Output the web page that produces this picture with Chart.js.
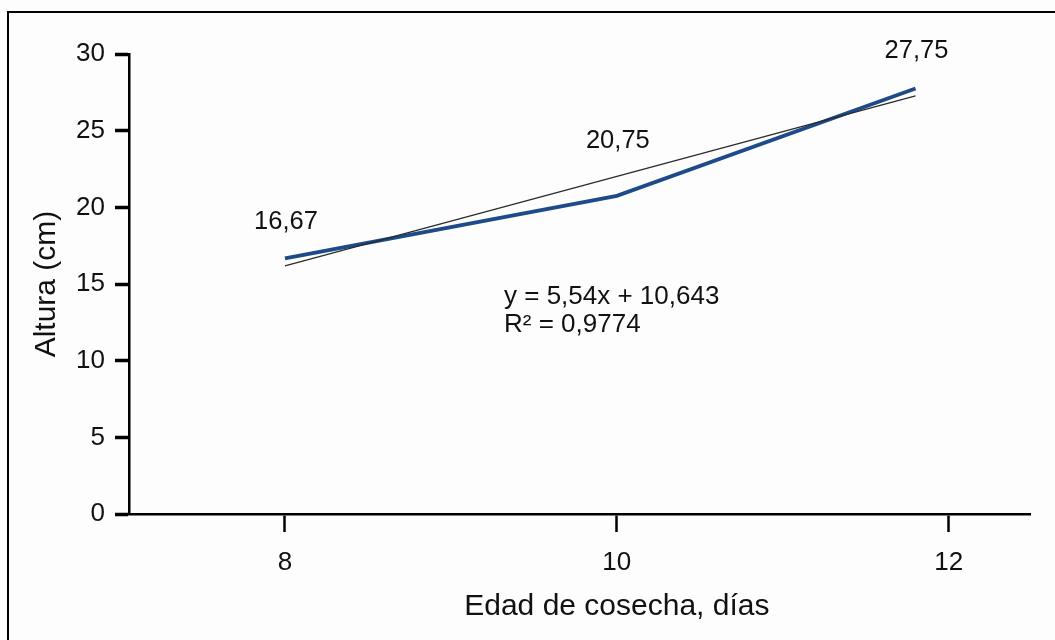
<!DOCTYPE html>
<html>
<head>
<meta charset="utf-8">
<script src="https://cdn.jsdelivr.net/npm/chart.js@4/dist/chart.umd.min.js"></script>
<style>
  html, body { margin: 0; padding: 0; background: #fdfdfd; }
  #wrap { position: relative; width: 1055px; height: 640px; overflow: hidden; }
  #frame { position: absolute; left: 7px; top: 11px; width: 1100px; height: 700px;
           border-left: 2.5px solid #000; border-top: 2.5px solid #000; box-sizing: border-box; }
  #c { position: absolute; left: 0; top: 0; }
</style>
</head>
<body>
<div id="wrap">
  <div id="frame"></div>
  <canvas id="c" width="1055" height="640"></canvas>
</div>
<script>
// Plant height by harvest age
const ages = [8, 10, 11.8];
const heights = [16.67, 20.75, 27.75];
const xTickValues = [8, 10, 12];
const yTickStep = 5;
const yRange = [0, 30];
const xRange = [7.06, 12.49];
// Linear trend (x = sample index 1..n): y = slope * x + intercept
const trendCoef = [5.54, 10.643];
const trendIndex = [1, 3];
const equationLines = ['y = 5,54x + 10,643', 'R\u00B2 = 0,9774'];
const xTitle = 'Edad de cosecha, días';
const yTitle = 'Altura (cm)';

const FONT = '"Liberation Sans", Arial, sans-serif';
const fmt = v => v.toFixed(2).replace('.', ',');

const trendPoints = [
  { x: ages[0], y: trendCoef[0] * trendIndex[0] + trendCoef[1] },
  { x: ages[ages.length - 1], y: trendCoef[0] * trendIndex[1] + trendCoef[1] }
];

// vertical distance of each value label above its point
const labelLift = [36, 55, 38];

const annotations = {
  id: 'annotations',
  afterDatasetsDraw(chart) {
    const ctx = chart.ctx;
    const meta = chart.getDatasetMeta(1);
    ctx.save();
    ctx.fillStyle = '#111';
    ctx.textAlign = 'center';
    ctx.textBaseline = 'middle';
    ctx.font = '25.5px ' + FONT;
    meta.data.forEach((pt, i) => {
      ctx.fillText(fmt(heights[i]), pt.x + 1, pt.y - labelLift[i]);
    });
    // regression equation
    ctx.textAlign = 'left';
    ctx.font = '26px ' + FONT;
    ctx.fillText(equationLines[0], 504, 297);
    ctx.fillText(equationLines[1], 504, 325);
    // axis titles
    const xs = chart.scales.x;
    ctx.font = '30px ' + FONT;
    ctx.textAlign = 'center';
    ctx.fillText(xTitle, xs.getPixelForValue(xTickValues[1]), 607);
    ctx.save();
    ctx.translate(47, (chart.chartArea.top + chart.chartArea.bottom) / 2);
    ctx.rotate(-Math.PI / 2);
    ctx.fillText(yTitle, 0, 0);
    ctx.restore();
    ctx.restore();
  }
};

new Chart(document.getElementById('c'), {
  type: 'scatter',
  data: {
    datasets: [
      {
        data: trendPoints,
        showLine: true,
        borderColor: '#2a2a2a',
        borderWidth: 1.3,
        pointRadius: 0,
        order: 0
      },
      {
        data: ages.map((a, i) => ({ x: a, y: heights[i] })),
        showLine: true,
        borderColor: '#1d4a88',
        borderWidth: 3.8,
        pointRadius: 0,
        tension: 0,
        order: 1
      }
    ]
  },
  options: {
    responsive: false,
    animation: false,
    layout: { padding: { top: 54, right: 25, left: 0, bottom: 0 } },
    plugins: { legend: { display: false }, tooltip: { enabled: false } },
    scales: {
      x: {
        type: 'linear',
        min: xRange[0],
        max: xRange[1],
        afterBuildTicks: s => { s.ticks = xTickValues.map(v => ({ value: v })); },
        afterFit: s => { s.height = 126; },
        border: { display: true, color: '#000', width: 2.5 },
        grid: { drawOnChartArea: false, drawTicks: true, tickLength: 18, tickWidth: 2.5, tickColor: '#000' },
        ticks: { color: '#111', font: { size: 26, family: FONT }, padding: 15, maxRotation: 0 }
      },
      y: {
        min: yRange[0],
        max: yRange[1],
        ticks: { stepSize: yTickStep, color: '#111', font: { size: 26, family: FONT }, padding: 10 },
        afterFit: s => { s.width = 129; },
        border: { display: true, color: '#000', width: 2.5 },
        grid: { drawOnChartArea: false, drawTicks: true, tickLength: 14, tickWidth: 3.5, tickColor: '#000' }
      }
    }
  },
  plugins: [annotations]
});
</script>
</body>
</html>
